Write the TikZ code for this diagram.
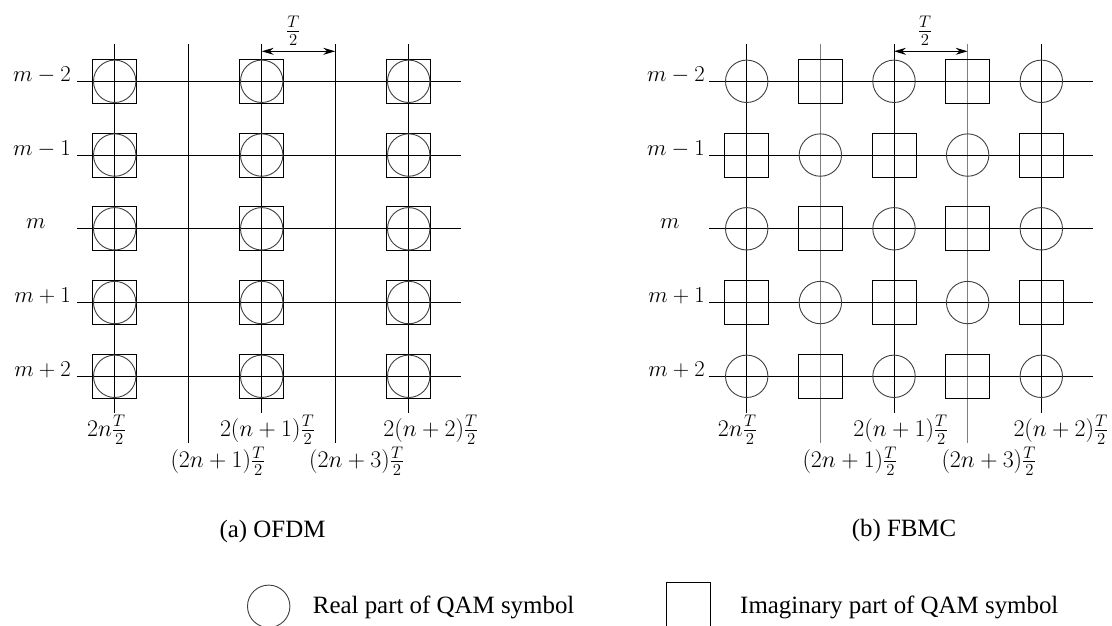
\RequirePackage{fix-cm}
\documentclass[tikz,border=0pt]{standalone}
\usepackage{fontspec}
\newfontfamily\capfont{Liberation Serif}
\usetikzlibrary{arrows.meta}
\tikzset{
  gridline/.style={line width=1bp, black},
  gridlight/.style={line width=1bp, black!50},
  realsym/.style={circle, draw=black!75, line width=0.9bp, minimum size=42.4bp, inner sep=0pt},
  imagsym/.style={rectangle, draw=black, line width=0.9bp, minimum size=44bp, inner sep=0pt},
  lbl/.style={inner sep=0pt, font=\fontsize{22.8}{27}\selectfont},
  tlbl/.style={inner sep=0pt, font=\fontsize{24}{29}\selectfont},
  captext/.style={inner sep=0pt, font=\capfont\fontsize{25}{30}\selectfont},
  dimarrow/.style={line width=1bp, {Stealth[length=12bp,width=7bp,inset=4bp]}-{Stealth[length=12bp,width=7bp,inset=4bp]}},
}
\begin{document}
\begin{tikzpicture}[x=1bp,y=-1bp]
\fill[white] (0,0) rectangle (1112,626);
\useasboundingbox (0,0) rectangle (1112,626);

% ---------------- (a) OFDM ----------------
\foreach \k in {0,...,4} {
  \pgfmathsetmacro\xx{114.7+73.5*\k}
  \pgfmathsetmacro\yb{mod(\k,2)==1 ? 443.3 : 413.3}
  \coordinate (Lvt\k) at (\xx,44);
  \coordinate (Lvb\k) at (\xx,\yb);
  \draw[gridline] (Lvt\k) -- (Lvb\k);
}
\foreach \j in {0,...,4} {
  \pgfmathsetmacro\yy{81.3+73.75*\j}
  \coordinate (Lhl\j) at (77,\yy);
  \coordinate (Lhr\j) at (461,\yy);
  \draw[gridline] (Lhl\j) -- (Lhr\j);
  \foreach \k in {0,2,4} {
    \pgfmathsetmacro\xx{114.7+73.5*\k}
    \node[imagsym] (Lsq\j\k) at (\xx,\yy) {};
    \node[realsym] (Lci\j\k) at (\xx,\yy) {};
  }
}
\node[lbl, anchor=base east] (Lm0) at (71,81.3) {$m-2$};
\node[lbl, anchor=base east] (Lm1) at (71,155.05) {$m-1$};
\node[lbl, anchor=base west] (Lm2) at (26,228.8) {$m$};
\node[lbl, anchor=base east] (Lm3) at (71,302.55) {$m+1$};
\node[lbl, anchor=base east] (Lm4) at (71,376.3) {$m+2$};

\node[tlbl, anchor=base] (Lb0) at (106.7,436.2) {$2n\frac{T}{2}$};
\node[tlbl, anchor=base] (Lb2) at (267.5,436.2) {$2(n+1)\frac{T}{2}$};
\node[tlbl, anchor=base] (Lb4) at (430.8,436.2) {$2(n+2)\frac{T}{2}$};
\node[tlbl, anchor=base] (Lb1) at (218,467.5) {$(2n+1)\frac{T}{2}$};
\node[tlbl, anchor=base] (Lb3) at (356.7,467.5) {$(2n+3)\frac{T}{2}$};

\coordinate (La1) at (261.7,51.3);
\coordinate (La2) at (335.2,51.3);
\draw[dimarrow] (La1) -- (La2);
\node[tlbl] (LT) at (293.3,31) {$\frac{T}{2}$};

\node[captext] (capa) at (272.5,532) {(a) OFDM};

% ---------------- (b) FBMC ----------------
\foreach \k in {0,...,4} {
  \pgfmathsetmacro\xx{746.7+73.65*\k}
  \pgfmathsetmacro\yb{mod(\k,2)==1 ? 443.3 : 413.3}
  \coordinate (Rvt\k) at (\xx,44);
  \coordinate (Rvb\k) at (\xx,\yb);
  \pgfmathparse{int(mod(\k,2))}
  \ifnum\pgfmathresult=1
    \draw[gridlight] (Rvt\k) -- (Rvb\k);
  \else
    \draw[gridline] (Rvt\k) -- (Rvb\k);
  \fi
}
\foreach \j in {0,...,4} {
  \pgfmathsetmacro\yy{81.3+73.75*\j}
  \coordinate (Rhl\j) at (709.3,\yy);
  \coordinate (Rhr\j) at (1092.7,\yy);
  \draw[gridline] (Rhl\j) -- (Rhr\j);
  \foreach \k in {0,...,4} {
    \pgfmathsetmacro\xx{746.7+73.65*\k}
    \pgfmathparse{int(mod(\j+\k,2))}
    \ifnum\pgfmathresult=0
      \node[realsym] (Rs\j\k) at (\xx,\yy) {};
    \else
      \node[imagsym] (Rs\j\k) at (\xx,\yy) {};
    \fi
  }
}
\node[lbl, anchor=base east] (Rm0) at (705,81.3) {$m-2$};
\node[lbl, anchor=base east] (Rm1) at (705,155.05) {$m-1$};
\node[lbl, anchor=base west] (Rm2) at (660,228.8) {$m$};
\node[lbl, anchor=base east] (Rm3) at (705,302.55) {$m+1$};
\node[lbl, anchor=base east] (Rm4) at (705,376.3) {$m+2$};

\node[tlbl, anchor=base] (Rb0) at (737.5,436.2) {$2n\frac{T}{2}$};
\node[tlbl, anchor=base] (Rb2) at (900.8,436.2) {$2(n+1)\frac{T}{2}$};
\node[tlbl, anchor=base west] (Rb4) at (1013.3,436.2) {$2(n+2)\frac{T}{2}$};
\node[tlbl, anchor=base] (Rb1) at (850,467.5) {$(2n+1)\frac{T}{2}$};
\node[tlbl, anchor=base] (Rb3) at (989,467.5) {$(2n+3)\frac{T}{2}$};

\coordinate (Ra1) at (894,51.3);
\coordinate (Ra2) at (967.65,51.3);
\draw[dimarrow] (Ra1) -- (Ra2);
\node[tlbl] (RT) at (925,31) {$\frac{T}{2}$};

\node[captext] (capb) at (904,531) {(b) FBMC};

% ---------------- legend ----------------
\node[realsym] (legc) at (268.7,606.3) {};
\node[captext, anchor=base west] (legct) at (312.7,613.3) {Real part of QAM symbol};
\node[imagsym] (legs) at (688,604.7) {};
\node[captext, anchor=base west] (legst) at (740,613.3) {Imaginary part of QAM symbol};
\end{tikzpicture}
\end{document}
